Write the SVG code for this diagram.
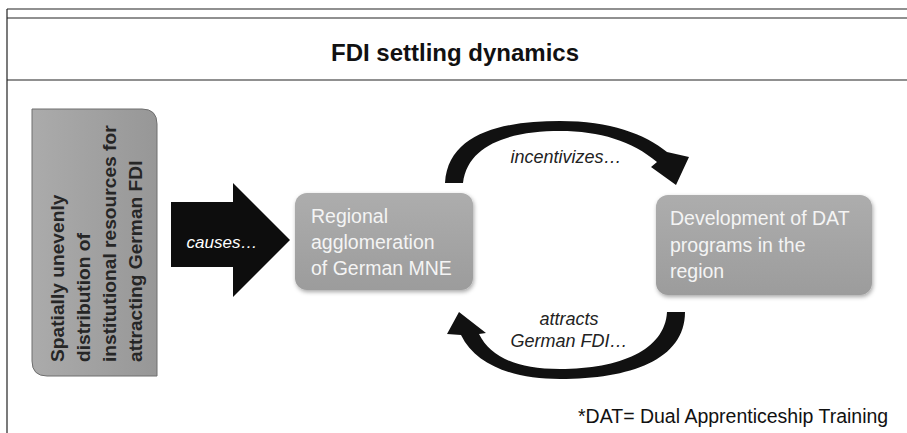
<svg xmlns="http://www.w3.org/2000/svg" width="907" height="433" viewBox="0 0 907 433">
  <defs>
    <linearGradient id="gLeft" x1="0" y1="0" x2="1" y2="0">
      <stop offset="0" stop-color="#ababab"/>
      <stop offset="1" stop-color="#979797"/>
    </linearGradient>
    <linearGradient id="gBox" x1="0" y1="0" x2="0" y2="1">
      <stop offset="0" stop-color="#adadad"/>
      <stop offset="1" stop-color="#9c9c9c"/>
    </linearGradient>
    <filter id="shadow" x="-10%" y="-10%" width="125%" height="130%">
      <feDropShadow dx="1" dy="2" stdDeviation="2" flood-color="#000" flood-opacity="0.35"/>
    </filter>
  </defs>
  <style>
    .frame { stroke: #222; stroke-width: 1.2; fill: none; }
    .title { font-family: "Liberation Sans", Arial, sans-serif; font-weight: bold; font-size: 24px; fill: #111; }
    .lefttxt { font-family: "Liberation Sans", Arial, sans-serif; font-weight: bold; font-size: 19.2px; fill: #262626; }
    .boxtxt { font-family: "Liberation Sans", Arial, sans-serif; font-size: 19.5px; fill: #f4f4f4; }
    .lbl { font-family: "Liberation Sans", Arial, sans-serif; font-style: italic; font-size: 18px; fill: #222; }
    .note { font-family: "Liberation Sans", Arial, sans-serif; font-size: 19.5px; fill: #111; }
    .arc { fill: #111; }
  </style>
  <rect width="907" height="433" fill="#fff"/>

  <g id="frame">
    <line class="frame" x1="7" y1="9" x2="907" y2="9" stroke="#666"/>
    <line class="frame" x1="7" y1="18" x2="907" y2="18"/>
    <line class="frame" x1="7" y1="80" x2="907" y2="80"/>
    <line class="frame" x1="7" y1="9" x2="7" y2="433"/>
    <text class="title" x="455" y="61" text-anchor="middle">FDI settling dynamics</text>
  </g>

  <g id="node-left">
    <path d="M32,109 H142 Q157,109 157,124 V376 H47 Q32,376 32,361 Z" fill="url(#gLeft)" stroke="#6e6e6e" stroke-width="1"/>
    <g class="lefttxt">
      <text transform="translate(64,362) rotate(-90)">Spatially unevenly</text>
      <text transform="translate(90,362) rotate(-90)">distribution of</text>
      <text transform="translate(116,362) rotate(-90)">institutional resources for</text>
      <text transform="translate(142,362) rotate(-90)">attracting German FDI</text>
    </g>
  </g>

  <g id="node-regional">
    <rect x="295" y="193" width="178" height="97" rx="12" fill="url(#gBox)" filter="url(#shadow)"/>
    <text class="boxtxt" x="311" y="223">Regional</text>
    <text class="boxtxt" x="311" y="249">agglomeration</text>
    <text class="boxtxt" x="311" y="275">of German MNE</text>
  </g>

  <g id="node-dat">
    <rect x="656" y="195" width="216" height="100" rx="12" fill="url(#gBox)" filter="url(#shadow)"/>
    <text class="boxtxt" x="670" y="225">Development of DAT</text>
    <text class="boxtxt" x="670" y="252">programs in the</text>
    <text class="boxtxt" x="670" y="278">region</text>
  </g>

  <g id="connectors">
    <g id="causes">
      <path d="M171,202 H233 V183 L290,240 L233,297 V267 H171 Z" fill="#0d0d0d"/>
      <text class="lbl" x="222" y="248" text-anchor="middle" style="fill:#fff;font-size:17px">causes…</text>
    </g>
    <g id="incentivizes">
      <path class="arc" d="M445,183 C448,132 505,121 560,121 C610,121 645,134 667,152 L689,157 L676,185 L651,167 L657,162 C632,141 600,131 560,131 C515,131 468,142 463,183 Z"/>
      <text class="lbl" x="566" y="163" text-anchor="middle">incentivizes…</text>
    </g>
    <g id="attracts">
      <path class="arc" d="M667,312 C665,350 620,369 560,369 C515,369 490,356 479,334 L486,333 L459,312 L447,334 L461,335 C476,366 515,379 560,379 C630,379 685,360 685,312 Z"/>
      <text class="lbl" x="569" y="325" text-anchor="middle">attracts</text>
      <text class="lbl" x="569" y="347" text-anchor="middle">German FDI…</text>
    </g>
  </g>

  <g id="footnote">
    <text class="note" x="578" y="423">*DAT= Dual Apprenticeship Training</text>
  </g>
</svg>
